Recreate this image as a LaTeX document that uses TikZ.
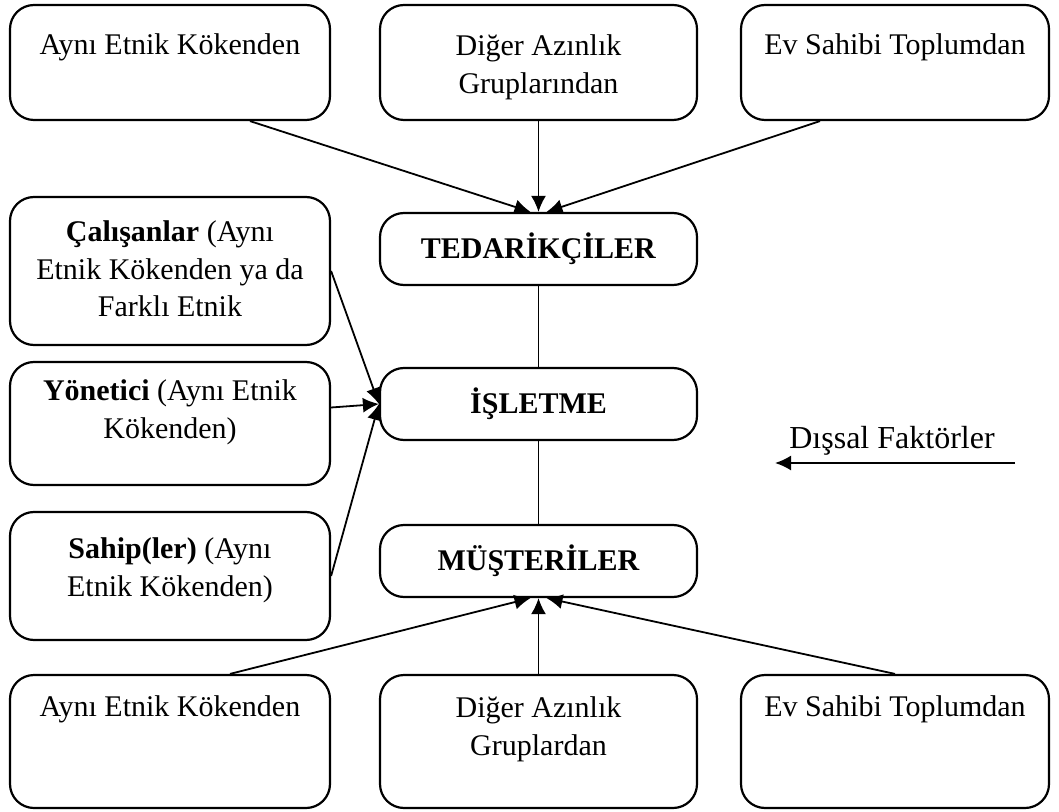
\documentclass[tikz,border=0pt]{standalone}
\usepackage{fontspec}
\setmainfont{Liberation Serif}
\usetikzlibrary{arrows.meta}
\tikzset{
  kutu/.style={draw, line width=1.1pt, rounded corners=12pt, minimum width=160pt, inner sep=0pt},
  ic/.style={anchor=north, align=center, execute at begin node=\strut},
  ok/.style={->, line width=0.9pt},
}
\begin{document}
\begin{tikzpicture}[x=0.5pt, y=-0.5pt, >={Latex[length=8pt,width=7.5pt]}, font=\fontsize{15}{18.75}\selectfont]
  \useasboundingbox (0,0) rectangle (1059,812);
  % ust sira
  \node[kutu, minimum height=57.5pt, label={[ic, yshift=-8.5pt]north:Aynı Etnik Kökenden}] (ust1) at (170,62.5) {};
  \node[kutu, minimum width=158.5pt, minimum height=57.5pt, label={[ic, yshift=-12pt]north:Diğer Azınlık\\Gruplarından}] (ust2) at (538.5,62.5) {};
  \node[kutu, minimum width=154pt, minimum height=57.5pt, label={[ic, yshift=-8.5pt]north:Ev Sahibi Toplumdan}] (ust3) at (895,62.5) {};
  % orta
  \node[kutu, minimum width=158.5pt, minimum height=36pt] (tedarik) at (538.5,249) {\textbf{TEDARİKÇİLER}};
  \node[kutu, minimum width=158.5pt, minimum height=36pt] (isletme) at (538.5,404) {\textbf{İŞLETME}};
  \node[kutu, minimum width=158.5pt, minimum height=36pt] (musteri) at (538.5,561) {\textbf{MÜŞTERİLER}};
  % sol
  \node[kutu, minimum height=74pt, label={[ic, yshift=-9pt]north:\textbf{Çalışanlar} (Aynı\\Etnik Kökenden ya da\\Farklı Etnik}] (calisan) at (170,271) {};
  \node[kutu, minimum height=61.5pt, label={[ic, yshift=-6pt]north:\textbf{Yönetici} (Aynı Etnik\\Kökenden)}] (yonetici) at (170,423.5) {};
  \node[kutu, minimum height=64pt, label={[ic, yshift=-10pt]north:\textbf{Sahip(ler)} (Aynı\\Etnik Kökenden)}] (sahip) at (170,576) {};
  % alt sira
  \node[kutu, minimum height=66.5pt, label={[ic, yshift=-4.5pt]north:Aynı Etnik Kökenden}] (alt1) at (170,741.5) {};
  \node[kutu, minimum width=158.5pt, minimum height=66.5pt, label={[ic, yshift=-8pt]north:Diğer Azınlık\\Gruplardan}] (alt2) at (538.5,741.5) {};
  \node[kutu, minimum width=154pt, minimum height=66.5pt, label={[ic, yshift=-4.5pt]north:Ev Sahibi Toplumdan}] (alt3) at (895,741.5) {};
  % dissal
  \node[font=\fontsize{16}{19}\selectfont] (dissal) at (892,441) {Dışsal Faktörler};
  \coordinate (disbas) at (1015,463);
  \coordinate (disuc) at (775,463);

  \draw[ok] ([xshift=40pt]ust1.south) -- ([xshift=-4pt]tedarik.north);
  \draw[ok] (ust2.south) -- (tedarik.north);
  \draw[ok] ([xshift=-37.5pt]ust3.south) -- ([xshift=4pt]tedarik.north);
  \draw[line width=0.9pt] (tedarik) -- (isletme);
  \draw[line width=0.9pt] (isletme) -- (musteri);
  \draw[ok] (calisan.east) -- (isletme.west);
  \draw[ok] ([yshift=8pt]yonetici.east) -- (isletme.west);
  \draw[ok] (sahip.east) -- (isletme.west);
  \draw[ok] ([xshift=30pt]alt1.north) -- ([xshift=-4pt]musteri.south);
  \draw[ok] (alt2.north) -- (musteri.south);
  \draw[ok] (alt3.north) -- ([xshift=4pt]musteri.south);
  \draw[ok] (disbas) -- (disuc);
\end{tikzpicture}
\end{document}
